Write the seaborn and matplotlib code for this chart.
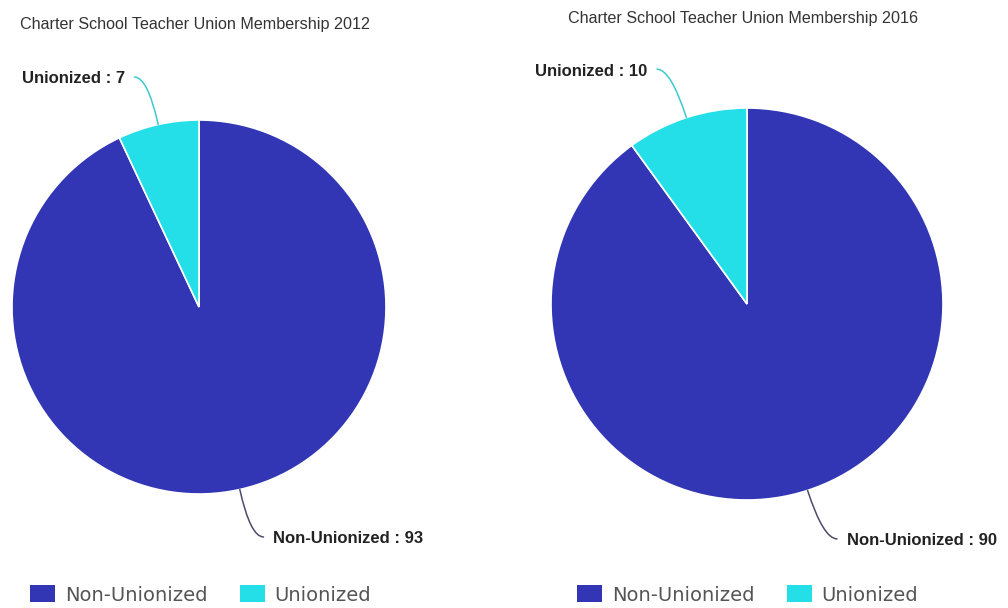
import numpy as np
import matplotlib.pyplot as plt
import seaborn as sns
from matplotlib.patches import Patch

categories = ["Non-Unionized", "Unionized"]
share_2012 = [93, 7]
share_2016 = [90, 10]
titles = ["Charter School Teacher Union Membership 2012",
          "Charter School Teacher Union Membership 2016"]

colors = ["#3236b4", "#24dfe8"]
line_colors = ["#4a4d6a", "#3cc8d0"]

sns.set_theme(style="white")
plt.rcParams["font.family"] = ["DejaVu Sans"]

W, H = 1008, 608
LIM = 1.45
fig = plt.figure(figsize=(W / 100, H / 100), dpi=100)


def px_axes(cx, cy, r):
    # place a square axes so that radius 1 = r pixels, centred at (cx, cy) from top-left
    return fig.add_axes([(cx - LIM * r) / W, (H - cy - LIM * r) / H,
                         2 * LIM * r / W, 2 * LIM * r / H])


def draw_pie(ax, values, title, title_xy, legend_x):
    wedges, _ = ax.pie(values, colors=colors, startangle=90, counterclock=False,
                       wedgeprops=dict(edgecolor="white", linewidth=1.2))
    ax.set_xlim(-LIM, LIM)
    ax.set_ylim(-LIM, LIM)
    ax.axis("off")

    for w, name, val, lc in zip(wedges, categories, values, line_colors):
        mid = np.deg2rad((w.theta1 + w.theta2) / 2)
        c, s = np.cos(mid), np.sin(mid)
        side = 1 if c >= 0 else -1
        edge = (c, s)
        end = (1.26 * c + side * 0.07, 1.26 * s)
        ax.annotate("", xy=edge, xytext=end,
                    arrowprops=dict(arrowstyle="-", color=lc, lw=1.1,
                                    shrinkA=0, shrinkB=0,
                                    connectionstyle=f"angle3,angleA=0,angleB={np.rad2deg(mid):.1f}"),
                    annotation_clip=False)
        ax.text(end[0] + side * 0.05, end[1] - 0.01, f"{name} : {val}",
                ha="left" if side > 0 else "right", va="center",
                fontsize=12, fontweight="bold", color="#222222",
                family=["Liberation Sans", "DejaVu Sans"], clip_on=False)

    fig.text(title_xy[0] / W, 1 - title_xy[1] / H, title, ha="left", va="center",
             fontsize=11.6, color="#333333", family=["Liberation Sans", "DejaVu Sans"])

    handles = [Patch(facecolor=col, edgecolor="none") for col in colors]
    ax.legend(handles, categories, loc="center left",
              bbox_to_anchor=(legend_x / W, 1 - 595 / H), bbox_transform=fig.transFigure,
              ncol=2, frameon=False, fontsize=14, labelcolor="#555555",
              handlelength=1.3, handleheight=0.95, handletextpad=0.5,
              columnspacing=1.65, borderpad=0, borderaxespad=0)


ax1 = px_axes(199, 307, 187)
draw_pie(ax1, share_2012, titles[0], (20, 25), 30)

ax2 = px_axes(747, 304, 196)
draw_pie(ax2, share_2016, titles[1], (568, 18), 577)

fig.savefig("out.png", dpi=100)
